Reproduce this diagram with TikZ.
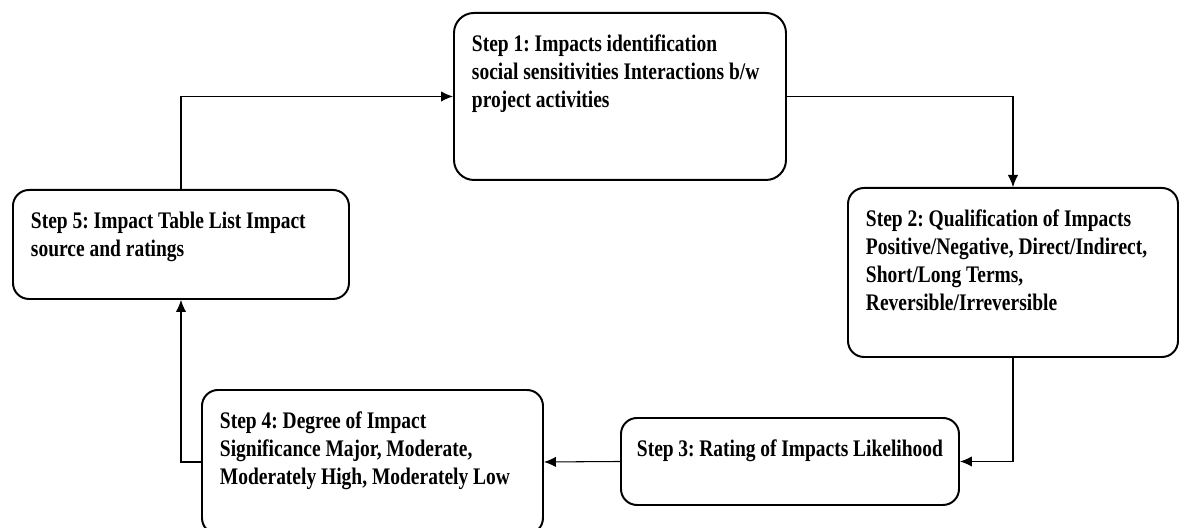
\documentclass[tikz,border=0pt]{standalone}
\usepackage{fontspec}
\setmainfont{Liberation Serif}[FakeStretch=0.82]
\usepackage{tikz}
\usetikzlibrary{arrows.meta}

\newcommand{\stagetext}[3]{\parbox[t][#2][t]{#1}{\raggedright #3}}

\begin{document}
\frenchspacing
\begin{tikzpicture}[
  stage/.style={draw, line width=1.4pt, rounded corners=0.4cm, anchor=north west, inner xsep=0.45cm, inner ysep=0.55cm, font=\fontsize{16.9pt}{19.9pt}\selectfont\bfseries},
  arr/.style={-{Latex[length=3mm, width=2.6mm]}, line width=0.75pt}
]
  \useasboundingbox (0,0) rectangle (29.475,-13.2);

  \node[stage, rounded corners=0.5cm] (s1) at (11.325,-0.3) {\stagetext{7.4cm}{3.075cm}{Step 1: Impacts identification\\ social sensitivities Interactions b/w\\ project activities}};
  \node[stage] (s2) at (21.175,-4.675) {\stagetext{7.35cm}{3.125cm}{Step 2: Qualification of Impacts\\ Positive/Negative, Direct/Indirect,\\ Short/Long Terms,\\ Reversible/Irreversible}};
  \node[stage, inner xsep=0.4cm] (s3) at (15.5,-10.425) {\stagetext{7.65cm}{1.075cm}{Step 3: Rating of Impacts Likelihood}};
  \node[stage] (s4) at (5.025,-9.725) {\stagetext{7.625cm}{2.5cm}{Step 4: Degree of Impact\\ Significance Major, Moderate,\\ Moderately High, Moderately Low}};
  \node[stage] (s5) at (0.3,-4.725) {\stagetext{7.5cm}{1.625cm}{Step 5: Impact Table List Impact\\ source and ratings}};

  \draw[arr] (s5.north) |- (s1.west);
  \draw[arr] (s1.east) -| (s2.north);
  \draw[arr] (s2.south) |- (s3.east);
  \draw[arr] (s3.west) -- (s4.east);
  \draw[arr] (s4.west) -| (s5.south);
\end{tikzpicture}
\end{document}
